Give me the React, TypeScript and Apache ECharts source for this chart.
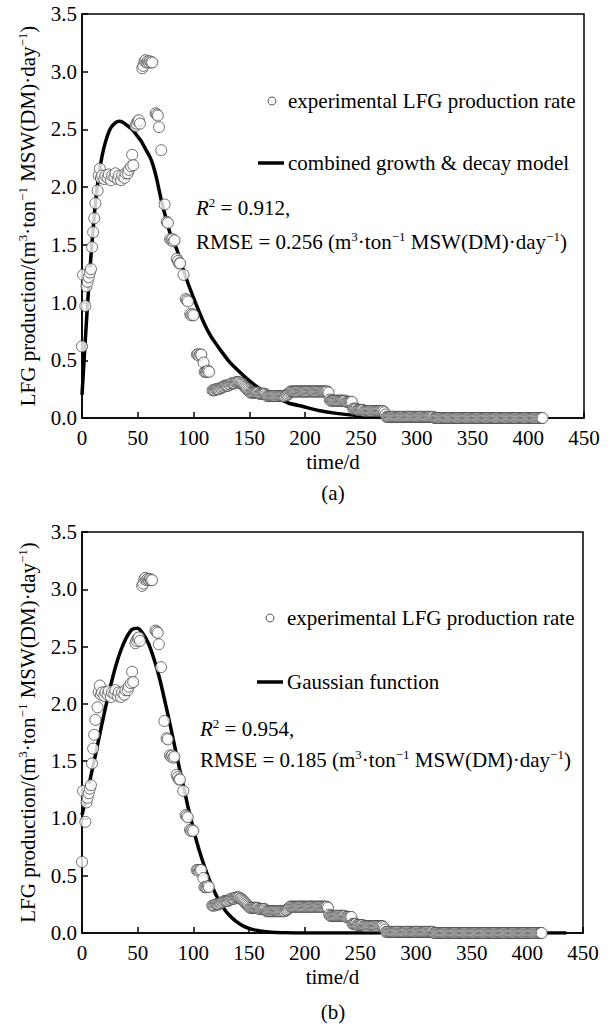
import React, { useEffect, useRef } from "react";
import * as echarts from "echarts";

const FONT = '"Liberation Serif", "Times New Roman", Times, serif';

// Experimental LFG production rate (day, m3/ton MSW(DM)/day)
const expRise: [number, number][] = [
  [0, 0.62], [1, 1.24], [3, 0.97], [4, 1.14], [5, 1.18], [6, 1.22], [7, 1.26], [8, 1.29],
  [9, 1.48], [10, 1.61], [11, 1.73], [12, 1.86], [14, 1.97], [15, 2.1], [16, 2.16], [17, 2.08],
  [18, 2.1], [20, 2.07], [21, 2.1], [23, 2.08], [24, 2.11], [26, 2.06], [27, 2.1], [29, 2.09],
  [30, 2.12], [32, 2.07], [33, 2.1], [35, 2.06], [36, 2.1], [38, 2.08], [39, 2.12], [41, 2.12],
  [42, 2.15], [44, 2.18], [45, 2.28], [46, 2.19],
];
const expPeak: [number, number][] = [
  [48, 2.53], [49, 2.55], [50, 2.57], [51, 2.58], [52, 2.55], [54, 3.03], [55, 3.05], [56, 3.09],
  [57, 3.1], [58, 3.08], [59, 3.09], [60, 3.08], [61, 3.09], [62, 3.08], [63, 3.08], [66, 2.64],
  [67, 2.63], [68, 2.62], [69, 2.52], [71, 2.32],
];
const expDecline: [number, number][] = [
  [74, 1.85], [76, 1.7], [77, 1.69], [79, 1.55], [80, 1.54], [81, 1.55], [82, 1.53], [83, 1.54],
  [85, 1.38], [86, 1.36], [87, 1.34], [88, 1.34], [91, 1.24], [93, 1.03], [94, 1.02], [95, 1.01],
  [97, 0.9], [98, 0.89], [99, 0.9], [100, 0.89], [103, 0.55], [104, 0.55], [105, 0.54], [106, 0.55],
  [107, 0.55], [109, 0.48], [110, 0.4], [111, 0.4], [112, 0.4], [113, 0.41], [114, 0.4],
];
// daily readings, day 117 .. 272
const plateauStartDay = 117;
const plateauRate = [
  0.24, 0.24, 0.24, 0.25, 0.25, 0.25, 0.25, 0.26, 0.26, 0.27,
  0.27, 0.28, 0.28, 0.28, 0.28, 0.29, 0.29, 0.3, 0.3, 0.3,
  0.3, 0.31, 0.31, 0.31, 0.31, 0.3, 0.3, 0.29, 0.28, 0.27,
  0.26, 0.25, 0.24, 0.23, 0.22, 0.22, 0.22, 0.22, 0.22, 0.22,
  0.22, 0.22, 0.21, 0.21, 0.21, 0.21, 0.21, 0.21, 0.2, 0.19,
  0.19, 0.19, 0.19, 0.19, 0.19, 0.19, 0.19, 0.19, 0.19, 0.19,
  0.19, 0.19, 0.19, 0.19, 0.19, 0.19, 0.2, 0.2, 0.21, 0.22,
  0.23, 0.23, 0.23, 0.23, 0.23, 0.23, 0.23, 0.23, 0.23, 0.23,
  0.23, 0.23, 0.23, 0.23, 0.23, 0.23, 0.23, 0.23, 0.23, 0.23,
  0.23, 0.23, 0.23, 0.23, 0.23, 0.23, 0.23, 0.23, 0.23, 0.23,
  0.23, 0.23, 0.23, 0.23, 0.22, 0.16, 0.15, 0.15, 0.15, 0.15,
  0.15, 0.15, 0.15, 0.15, 0.15, 0.15, 0.15, 0.15, 0.15, 0.15,
  0.14, 0.14, 0.14, 0.14, 0.14, 0.14, 0.08, 0.08, 0.08, 0.08,
  0.07, 0.07, 0.07, 0.07, 0.07, 0.07, 0.06, 0.06, 0.06, 0.06,
  0.06, 0.06, 0.06, 0.06, 0.06, 0.06, 0.06, 0.06, 0.06, 0.06,
  0.06, 0.06, 0.06, 0.06, 0.05, 0.03,
];
// daily readings, day 273 .. 413
const tailStartDay = 273;
const tailRate = [
  0.01, 0.01, 0.01, 0.01, 0.01, 0.01, 0.01, 0.01, 0.01, 0.01,
  0.01, 0.01, 0.01, 0.01, 0.01, 0.01, 0.01, 0.01, 0.01, 0.01,
  0.01, 0.01, 0.01, 0.01, 0.01, 0.01, 0.01, 0.01, 0.01, 0.01,
  0.01, 0.01, 0.01, 0.01, 0.01, 0.01, 0.01, 0.01, 0.01, 0.01,
  0.01, 0.01, 0.01, 0, 0, 0, 0, 0, 0, 0,
  0, 0, 0, 0, 0, 0, 0, 0, 0, 0,
  0, 0, 0, 0, 0, 0, 0, 0, 0, 0,
  0, 0, 0, 0, 0, 0, 0, 0, 0, 0,
  0, 0, 0, 0, 0, 0, 0, 0, 0, 0,
  0, 0, 0, 0, 0, 0, 0, 0, 0, 0,
  0, 0, 0, 0, 0, 0, 0, 0, 0, 0,
  0, 0, 0, 0, 0, 0, 0, 0, 0, 0,
  0, 0, 0, 0, 0, 0, 0, 0, 0, 0,
  0, 0, 0, 0, 0, 0, 0, 0, 0, 0,
  0,
];

// (a) combined growth & decay model curve
const modelDays = [0, 2, 4, 6, 8, 10, 12, 15, 18, 21, 25, 29, 33, 37, 41, 45, 49, 53, 57, 61, 64, 67, 71, 75, 79, 85, 92, 100, 109, 116, 124, 131, 139, 148, 157, 165, 174, 185, 198, 212, 228, 249, 275];
const modelRate = [0.2, 0.52, 0.84, 1.13, 1.4, 1.64, 1.86, 2.1, 2.27, 2.39, 2.5, 2.55, 2.57, 2.56, 2.53, 2.5, 2.45, 2.4, 2.33, 2.26, 2.18, 2.07, 1.89, 1.74, 1.6, 1.46, 1.25, 1.04, 0.83, 0.7, 0.59, 0.5, 0.42, 0.34, 0.27, 0.22, 0.18, 0.13, 0.1, 0.065, 0.04, 0.02, 0.005];

// (b) Gaussian function curve
const gaussDays = [0, 5, 10, 15, 20, 25, 30, 35, 40, 45, 50, 55, 60, 65, 70, 75, 80, 85, 90, 95, 100, 105, 110, 115, 120, 125, 130, 135, 140, 145, 150, 155, 160, 170, 180, 190, 200, 250, 300, 350, 400, 435];
const gaussRate = [1.03, 1.24, 1.46, 1.69, 1.92, 2.13, 2.32, 2.47, 2.58, 2.65, 2.66, 2.61, 2.52, 2.38, 2.21, 2.0, 1.78, 1.55, 1.33, 1.11, 0.91, 0.73, 0.58, 0.45, 0.34, 0.25, 0.18, 0.13, 0.09, 0.06, 0.04, 0.027, 0.018, 0.007, 0.003, 0.001, 0, 0, 0, 0, 0, 0];

const seriesNames = ["experimental LFG production rate", "combined growth & decay model", "Gaussian function"];
const fitStats = { a: { r2: "0.912", rmse: "0.256" }, b: { r2: "0.954", rmse: "0.185" } };
const panelLabels = ["(a)", "(b)"];

const expAll: [number, number][] = [
  ...expRise,
  ...expPeak,
  ...expDecline,
  ...plateauRate.map((v, i) => [plateauStartDay + i, v] as [number, number]),
  ...tailRate.map((v, i) => [tailStartDay + i, v] as [number, number]),
];

const supRich = {
  n: { fontFamily: FONT, fontSize: 21, lineHeight: 24, fontWeight: "normal", color: "#000" },
  i: { fontFamily: FONT, fontSize: 21, lineHeight: 24, fontWeight: "normal", fontStyle: "italic", color: "#000" },
  s: { fontFamily: FONT, fontSize: 13, lineHeight: 15, fontWeight: "normal", verticalAlign: "top", color: "#000" },
};

const unitRich = (prefix: string) =>
  `{n|${prefix}(m}{s|3}{n|·ton}{s|−1}{n| MSW(DM)·day}{s|−1}{n|)}`;

function makeX(gridIndex: number) {
  return {
    gridIndex,
    type: "value",
    min: 0,
    max: 450,
    interval: 50,
    name: "time/d",
    nameLocation: "middle",
    nameGap: 33,
    nameTextStyle: { fontFamily: FONT, fontSize: 21, fontWeight: "normal", color: "#000" },
    axisLine: { show: true, onZero: false, lineStyle: { color: "#000", width: 1.5 } },
    axisTick: { show: true, inside: true, length: 6, lineStyle: { color: "#000", width: 1.5 } },
    axisLabel: { fontFamily: FONT, fontSize: 21, fontWeight: "normal", color: "#000", margin: 9 },
    splitLine: { show: false },
  };
}

function makeY(gridIndex: number) {
  return {
    gridIndex,
    type: "value",
    min: 0,
    max: 3.5,
    interval: 0.5,
    name: unitRich("LFG production/"),
    nameLocation: "middle",
    nameGap: 42,
    nameRotate: 90,
    nameTextStyle: { fontFamily: FONT, fontSize: 21, fontWeight: "normal", color: "#000", rich: supRich },
    axisLine: { show: true, onZero: false, lineStyle: { color: "#000", width: 1.5 } },
    axisTick: { show: true, inside: true, length: 6, lineStyle: { color: "#000", width: 1.5 } },
    axisLabel: {
      fontFamily: FONT,
      fontSize: 21,
      fontWeight: "normal",
      color: "#000",
      margin: 5,
      formatter: (v: number) => v.toFixed(1),
    },
    splitLine: { show: false },
  };
}

function lineSeries(idx: number, days: number[], vals: number[], name: string) {
  return {
    type: "line",
    name,
    xAxisIndex: idx,
    yAxisIndex: idx,
    data: days.map((d, i) => [d, vals[i]]),
    showSymbol: false,
    smooth: 0.2,
    lineStyle: { color: "#000", width: 3.5 },
    z: 2,
  };
}

function scatterSeries(idx: number) {
  return {
    type: "scatter",
    name: seriesNames[0],
    xAxisIndex: idx,
    yAxisIndex: idx,
    data: expAll,
    symbol: "circle",
    symbolSize: 11,
    clip: false,
    itemStyle: { color: "#fff", borderColor: "#4a4a4a", borderWidth: 1 },
    z: 3,
  };
}

function legendBlock(
  circle: [number, number],
  textX: number,
  expY: number,
  lineX: [number, number],
  lineY: number,
  lineName: string,
  statsX: number,
  r2Y: number,
  rmseY: number,
  stats: { r2: string; rmse: string }
) {
  return [
    {
      type: "circle",
      shape: { cx: circle[0], cy: circle[1], r: 4 },
      style: { fill: "#fff", stroke: "#555", lineWidth: 1 },
    },
    {
      type: "text",
      x: textX,
      y: expY,
      style: { text: seriesNames[0], font: `21px ${FONT}`, fill: "#000", verticalAlign: "middle" },
    },
    {
      type: "line",
      shape: { x1: lineX[0], y1: lineY, x2: lineX[1], y2: lineY },
      style: { stroke: "#000", lineWidth: 3.5 },
    },
    {
      type: "text",
      x: textX,
      y: lineY,
      style: { text: lineName, font: `21px ${FONT}`, fill: "#000", verticalAlign: "middle" },
    },
    {
      type: "text",
      x: statsX,
      y: r2Y,
      style: { text: `{i|R}{s|2}{n| = ${stats.r2},}`, rich: supRich, verticalAlign: "middle" },
    },
    {
      type: "text",
      x: statsX,
      y: rmseY,
      style: { text: unitRich(`RMSE = ${stats.rmse} `), rich: supRich, verticalAlign: "middle" },
    },
  ];
}

export default function App() {
  const ref = useRef<HTMLDivElement>(null);
  useEffect(() => {
    if (!ref.current) return;
    const chart = echarts.init(ref.current, null, { renderer: "svg" });
    const option: any = {
      animation: false,
      backgroundColor: "#fff",
      grid: [
        { left: 82, top: 14, width: 502, height: 404, show: true, borderColor: "#000", borderWidth: 1.5, backgroundColor: "transparent" },
        { left: 82, top: 532, width: 501, height: 401, show: true, borderColor: "#000", borderWidth: 1.5, backgroundColor: "transparent" },
      ],
      xAxis: [makeX(0), makeX(1)],
      yAxis: [makeY(0), makeY(1)],
      series: [
        lineSeries(0, modelDays, modelRate, seriesNames[1]),
        scatterSeries(0),
        lineSeries(1, gaussDays, gaussRate, seriesNames[2]),
        scatterSeries(1),
      ],
      graphic: [
        ...legendBlock([272, 101], 288, 101, [258, 284], 163, seriesNames[1], 196, 208, 242, fitStats.a),
        ...legendBlock([270, 618], 287, 618, [257, 283], 682, seriesNames[2], 200, 729, 760, fitStats.b),
        {
          type: "text",
          x: 333,
          y: 493,
          style: { text: panelLabels[0], font: `21px ${FONT}`, fill: "#000", align: "center", verticalAlign: "middle" },
        },
        {
          type: "text",
          x: 333,
          y: 1012,
          style: { text: panelLabels[1], font: `21px ${FONT}`, fill: "#000", align: "center", verticalAlign: "middle" },
        },
      ],
    };
    chart.setOption(option);
    return () => chart.dispose();
  }, []);
  return (
    <div
      ref={ref}
      style={{ position: "absolute", left: 0, top: 0, width: 612, height: 1029, background: "#fff" }}
    />
  );
}
